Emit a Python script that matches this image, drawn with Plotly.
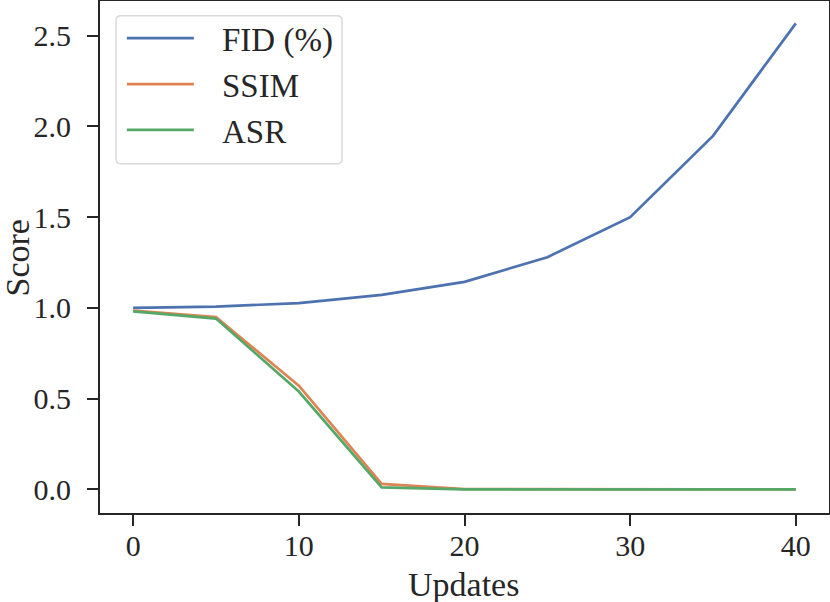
import plotly.graph_objects as go

# === 資料 ===
updates = [0, 5, 10, 15, 20, 25, 30, 35, 40]
fid = [1.0, 1.007, 1.026, 1.071, 1.143, 1.279, 1.499, 1.947, 2.567]
ssim = [0.985, 0.949, 0.571, 0.03, 0.002, 0.0, 0.0, 0.0, 0.0]
asr = [0.98, 0.941, 0.539, 0.011, 0.0, 0.0, 0.0, 0.0, 0.0]

x_ticks = [0, 10, 20, 30, 40]
y_ticks = [0.0, 0.5, 1.0, 1.5, 2.0, 2.5]

# seaborn deep
COLORS = {
    'fid': '#4C72B0',
    'ssim': '#DD8452',
    'asr': '#55A868',
    'axis': '#262626',
    'legend_border': '#D9D9D9',
}
FONT = 'Liberation Serif'
PAD = '\u00a0\u00a0\u2009'  # 圖例文字與線段間距

fig = go.Figure()
for name, ys, key in [('FID (%)', fid, 'fid'), ('SSIM', ssim, 'ssim'), ('ASR', asr, 'asr')]:
    fig.add_trace(go.Scatter(
        x=updates, y=ys, name=PAD + name, mode='lines',
        line=dict(color=COLORS[key], width=2.7),
    ))

# 圓角圖例框 (paper 座標)
x0, x1, y0, y1 = 0.022, 0.332, 0.682, 0.971
rx, ry = 0.007, 0.010
path = (f"M{x0+rx},{y0} L{x1-rx},{y0} Q{x1},{y0} {x1},{y0+ry} "
        f"L{x1},{y1-ry} Q{x1},{y1} {x1-rx},{y1} L{x0+rx},{y1} "
        f"Q{x0},{y1} {x0},{y1-ry} L{x0},{y0+ry} Q{x0},{y0} {x0+rx},{y0} Z")

axis_common = dict(
    showline=True, mirror=True, linecolor=COLORS['axis'], linewidth=2,
    showgrid=False, zeroline=False, automargin=False,
    ticks='outside', ticklen=11, tickwidth=2, tickcolor=COLORS['axis'],
    tickfont=dict(family=FONT, size=30, color=COLORS['axis']),
)
title_font = dict(family=FONT, size=34, color=COLORS['axis'])

fig.update_layout(
    width=830, height=602,
    paper_bgcolor='white', plot_bgcolor='white',
    margin=dict(l=100, r=1, t=1, b=89),
    xaxis=dict(
        range=[-2, 42], tickvals=x_ticks, ticktext=[str(v) for v in x_ticks],
        ticklabelstandoff=-6,
        **axis_common,
    ),
    yaxis=dict(
        range=[-0.13, 2.69], tickvals=y_ticks, ticktext=[f'{v:.1f}' for v in y_ticks],
        ticklabelstandoff=10,
        **axis_common,
    ),
    annotations=[
        dict(text='Updates', xref='paper', yref='paper', x=0.498, y=-0.1387,
             xanchor='center', yanchor='middle', showarrow=False, font=title_font),
        dict(text='Score', xref='paper', yref='paper', x=-0.1125, y=0.499, textangle=-90,
             xanchor='center', yanchor='middle', showarrow=False, font=title_font),
    ],
    showlegend=True,
    legend=dict(
        x=0.030, y=0.982, xanchor='left', yanchor='top',
        bgcolor='rgba(0,0,0,0)', borderwidth=0,
        font=dict(family=FONT, size=33, color=COLORS['axis']),
        itemwidth=67, tracegroupgap=0,
    ),
    shapes=[dict(type='path', path=path, xref='paper', yref='paper',
                 line=dict(color=COLORS['legend_border'], width=1.5),
                 fillcolor='rgba(255,255,255,0.8)', layer='above')],
)

# 移除頁面預設邊距，讓圖表貼齊視窗
fig.write_html('out.html', config={'displayModeBar': False},
               post_script="document.body.style.margin='0';")
